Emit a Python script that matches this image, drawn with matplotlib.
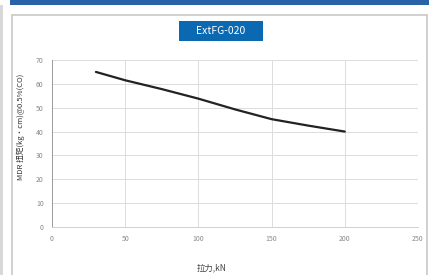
import matplotlib.pyplot as plt
from matplotlib.patches import Rectangle

plt.rcParams['font.family'] = ['Noto Sans CJK SC', 'DejaVu Sans']

# data
load_x = [30, 50, 75, 100, 125, 150, 175, 200]
torque_y = [65, 61.5, 57.8, 53.8, 49.3, 45.2, 42.5, 40]
x_ticks = [0, 50, 100, 150, 200, 250]
y_ticks = [0, 10, 20, 30, 40, 50, 60, 70]
title = "ExtFG-020"

W, H = 429, 275
fig = plt.figure(figsize=(W / 100, H / 100), dpi=100)
fig.patch.set_facecolor('white')

# frame decorations
fig.add_artist(Rectangle((10 / W, 1 - 5 / H), 1, 5 / H, transform=fig.transFigure,
                         color='#2a62a8', lw=0))
fig.add_artist(Rectangle((0, 0), 3 / W, 1 - 5 / H, transform=fig.transFigure,
                         color='#d8d8d8', lw=0))
fig.add_artist(Rectangle((12 / W, -0.01), (W - 14) / W, 1 - 12 / H, transform=fig.transFigure,
                         fill=False, ec='#c8c8c8', lw=1.2))

# title box
fig.add_artist(Rectangle((179 / W, 1 - 41 / H), 84 / W, 20 / H, transform=fig.transFigure,
                         color='#0b69b1', lw=0))
fig.text(221 / W, 1 - 31 / H, title, color='white', fontsize=7.5,
         ha='center', va='center')

ax = fig.add_axes([52 / W, 1 - 227 / H, (418 - 52) / W, (227 - 60) / H])
ax.plot(load_x, torque_y, color='#222222', lw=1.6, solid_capstyle='round')
ax.set_xlim(0, 250)
ax.set_ylim(0, 70)
ax.set_xticks(x_ticks)
ax.set_yticks(y_ticks)
ax.grid(True, color='#dcdcdc', lw=0.7)
ax.set_axisbelow(True)
for s in ['top', 'right']:
    ax.spines[s].set_visible(False)
ax.spines['left'].set_color('#9a9a9a')
ax.spines['bottom'].set_color('#d0d0d0')
ax.spines['left'].set_linewidth(0.7)
ax.spines['bottom'].set_linewidth(0.7)
ax.tick_params(length=0, labelsize=5, colors='#888888', pad=6)
ax.set_xlabel("拉力,kN", fontsize=6, color='#444444')
ax.xaxis.set_label_coords(0.437, -0.216)
ax.set_ylabel("MDR 扭矩(kg·cm)@0.5%(CO)", fontsize=5.5, color='#333333')
ax.yaxis.set_label_coords(-0.074, 0.6)

fig.savefig('out.png', dpi=100)
